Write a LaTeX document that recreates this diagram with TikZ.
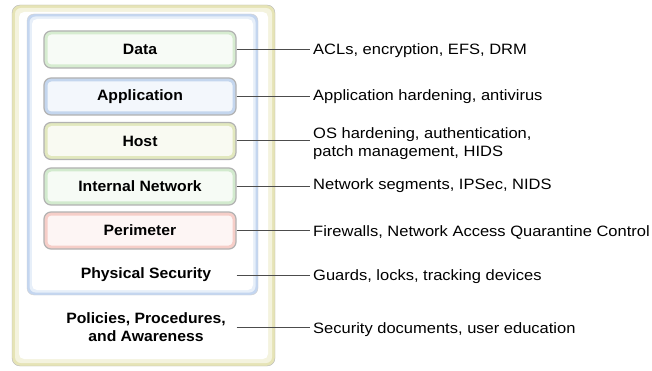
\documentclass[tikz,border=0pt]{standalone}
\usepackage{fontspec}
\setmainfont{Liberation Sans}
\newfontfamily\notefont[FakeStretch=1.1]{Liberation Sans}
\newfontfamily\layerfont[FakeStretch=1.05]{Liberation Sans}
\usetikzlibrary{positioning}
\definecolor{outerband}{RGB}{230,228,182}
\definecolor{blueband}{RGB}{196,214,240}
\definecolor{datagreen}{RGB}{214,236,208}
\definecolor{appblue}{RGB}{196,214,238}
\definecolor{hostyellow}{RGB}{226,232,190}
\definecolor{netgreen}{RGB}{210,234,206}
\definecolor{perimpink}{RGB}{246,206,200}

\tikzset{
  layer/.style={draw=gray!60, line width=1.2pt, rounded corners=7pt, fill=#1,
    minimum width=192pt, minimum height=37pt, inner sep=0pt,
    font={\layerfont\bfseries\fontsize{15}{18}\selectfont},
    path picture={\fill[#1!20!white, rounded corners=4pt]
      ([shift={(3.5pt,-3.5pt)}]path picture bounding box.north west) rectangle
      ([shift={(-3.5pt,3.5pt)}]path picture bounding box.south east);}},
  plainlayer/.style={align=center, inner sep=0pt,
    font={\layerfont\bfseries\fontsize{15}{18}\selectfont}},
  note/.style={anchor=west, inner sep=3pt, align=left,
    font={\notefont\fontsize{15}{18}\selectfont}},
  link/.style={draw=black!70, line width=1pt}
}

\begin{document}
\begin{tikzpicture}[x=1pt,y=-1pt]
\useasboundingbox (0,0) rectangle (652,371);

% outer frame
\draw[gray!55, fill=outerband, rounded corners=8pt] (12,5) rectangle (275,366);
\fill[outerband!45, rounded corners=6pt] (15,8) rectangle (272,363);
\fill[white, rounded corners=5pt] (19,12) rectangle (268,359);

% inner frame
\draw[gray!35, fill=blueband, rounded corners=7pt] (27,14) rectangle (258,295);
\fill[blueband!40, rounded corners=6pt] (29.5,16.5) rectangle (255.5,292.5);
\fill[white, rounded corners=5pt] (32,19) rectangle (253,290);

\node[layer=datagreen] (data) at (140,49.5) {Data};
\node[layer=appblue] (app) at (140,96.5) {Application};
\node[layer=hostyellow] (host) at (140,141) {Host};
\node[layer=netgreen] (net) at (140,186.5) {Internal Network};
\node[layer=perimpink] (perim) at (140,230.5) {Perimeter};
\node[plainlayer] (phys) at (146,275) {Physical Security};
\node[plainlayer] (policy) at (146,327) {Policies, Procedures,\\and Awareness};

\node[note] (dataNote) at (310,51) {ACLs, encryption, EFS, DRM};
\node[note] (appNote) at (310,97) {Application hardening, antivirus};
\node[note] (hostNote) at (310,144) {OS hardening, authentication,\\patch management, HIDS};
\node[note] (netNote) at (310,186) {Network segments, IPSec, NIDS};
\node[note] (perimNote) at (310,232) {Firewalls, Network Access Quarantine Control};
\node[note] (physNote) at (310,277) {Guards, locks, tracking devices};
\node[note] (policyNote) at (310,330) {Security documents, user education};

\draw[link] (data.east) -- (data.east -| dataNote.west);
\draw[link] (app.east) -- (app.east -| appNote.west);
\draw[link] (host.east) -- (host.east -| hostNote.west);
\draw[link] (net.east) -- (net.east -| netNote.west);
\draw[link] (perim.east) -- (perim.east -| perimNote.west);
\draw[link] (phys.east -| perim.east) -- (phys.east -| physNote.west);
\draw[link] (policy.east -| perim.east) -- (policy.east -| policyNote.west);
\end{tikzpicture}
\end{document}
